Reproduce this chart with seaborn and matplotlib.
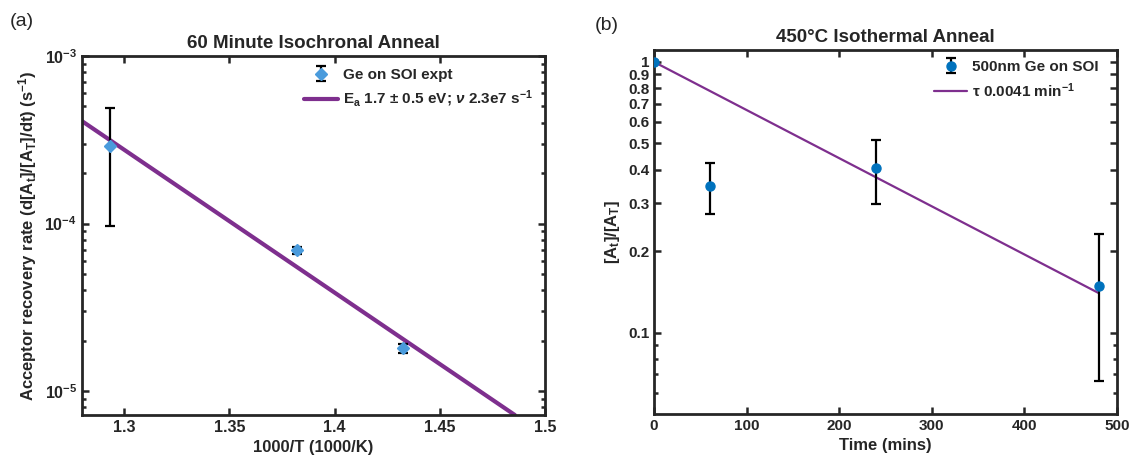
import numpy as np
import pandas as pd
import matplotlib
matplotlib.use("Agg")
import matplotlib.pyplot as plt
import matplotlib.ticker as mticker
import seaborn as sns

# Panel (a): 60 minute isochronal anneal
inv_T = [1.2933, 1.3820, 1.4325]
rate = [2.92e-4, 6.92e-5, 1.80e-5]
rate_err = [1.95e-4, 0.30e-5, 0.12e-5]
fit_a_x = [1.28, 1.4857]
fit_a_y = [4.09e-4, 7.2e-6]

# Panel (b): 450C isothermal anneal
time_min = [0, 60, 240, 480]
frac = [1.0, 0.349, 0.406, 0.149]
frac_err = [0.01, 0.075, 0.108, 0.083]
fit_b_x = [0, 480]
fit_b_y = [1.0, 0.14]

sns.set_style("ticks")
plt.rcParams['font.family'] = ['Liberation Sans', 'DejaVu Sans']
plt.rcParams['font.weight'] = 'bold'
plt.rcParams['axes.labelweight'] = 'bold'
plt.rcParams['axes.titleweight'] = 'bold'
plt.rcParams['mathtext.fontset'] = 'custom'
plt.rcParams['mathtext.rm'] = 'Liberation Sans:bold'
plt.rcParams['mathtext.bf'] = 'Liberation Sans:bold'
plt.rcParams['mathtext.it'] = 'Liberation Sans:italic:bold'
plt.rcParams['mathtext.default'] = 'rm'

purple = '#7E2F8E'
ink = '#262626'

fig = plt.figure(figsize=(11.29, 4.67), dpi=100)
ax1 = fig.add_axes([0.0726, 0.1113, 0.4101, 0.7687])
ax2 = fig.add_axes([0.5793, 0.1135, 0.4101, 0.7795])


def style_axes(ax, size):
    for s in ax.spines.values():
        s.set_linewidth(2.0)
        s.set_color(ink)
    ax.tick_params(which='both', direction='in', top=True, right=True,
                   width=1.8, color=ink, labelsize=size, labelcolor=ink)
    ax.tick_params(which='major', length=5)
    ax.tick_params(which='minor', length=3)
    for lab in ax.get_xticklabels() + ax.get_yticklabels():
        lab.set_fontweight('bold')


def data_first_legend(ax, anchor):
    h, l = ax.get_legend_handles_labels()
    ax.legend(h[::-1], l[::-1], loc='upper right', frameon=False, fontsize=11,
              bbox_to_anchor=anchor, handlelength=2.2, handletextpad=0.3,
              labelspacing=0.45, labelcolor=ink)


# ---- (a)
df_a = pd.DataFrame({'x': fit_a_x, 'y': fit_a_y})
sns.lineplot(data=df_a, x='x', y='y', ax=ax1, color=purple, linewidth=3,
             label=r'E$_\mathregular{a}$ 1.7 ± 0.5 eV; $\mathit{\nu}$ 2.3e7 s$^{-1}$', zorder=2)
ax1.errorbar(inv_T, rate, yerr=rate_err, fmt='D', color='#4A9BDC',
             markersize=6, ecolor='black', elinewidth=1.6, capsize=3.5,
             capthick=1.6, label='Ge on SOI expt', zorder=3)
ax1.set_yscale('log')
ax1.set_xlim(1.28, 1.5)
ax1.set_ylim(7.2e-6, 1e-3)
ax1.set_xticks([1.3, 1.35, 1.4, 1.45, 1.5])
ax1.xaxis.set_major_formatter(mticker.FuncFormatter(lambda v, p: f'{v:g}'))
ax1.yaxis.set_major_locator(mticker.LogLocator(base=10, numticks=10))
ax1.yaxis.set_minor_locator(mticker.LogLocator(base=10, subs=np.arange(2, 10), numticks=20))
ax1.yaxis.set_minor_formatter(mticker.NullFormatter())
ax1.set_xlabel('1000/T (1000/K)', fontsize=12, fontweight='bold', color=ink)
ax1.set_ylabel(r'Acceptor recovery rate (d[A$_t$]/[A$_T$]/dt) (s$^{-1}$)',
               fontsize=12, fontweight='bold', color=ink)
ax1.set_title('60 Minute Isochronal Anneal', fontsize=13.5, fontweight='bold',
              pad=6, color=ink)
data_first_legend(ax1, (1.003, 1.005))
style_axes(ax1, 11.5)

# ---- (b)
df_b = pd.DataFrame({'x': fit_b_x, 'y': fit_b_y})
sns.lineplot(data=df_b, x='x', y='y', ax=ax2, color=purple, linewidth=1.6,
             label=r'τ 0.0041 min$^{-1}$', zorder=2)
ax2.errorbar(time_min, frac, yerr=frac_err, fmt='o', color='#0072BD',
             markersize=6.5, ecolor='black', elinewidth=1.6, capsize=3.5,
             capthick=1.6, label='500nm Ge on SOI', zorder=3)
ax2.set_yscale('log')
ax2.set_xlim(0, 500)
ax2.set_ylim(0.05, 1.107)
ax2.set_xticks([0, 100, 200, 300, 400, 500])
ax2.yaxis.set_major_locator(mticker.FixedLocator([0.1, 0.2, 0.3, 0.4, 0.5, 0.6, 0.7, 0.8, 0.9, 1.0]))
ax2.yaxis.set_major_formatter(mticker.FuncFormatter(lambda v, p: f'{v:g}'))
ax2.yaxis.set_minor_locator(mticker.FixedLocator([0.06, 0.07, 0.08, 0.09]))
ax2.yaxis.set_minor_formatter(mticker.NullFormatter())
ax2.set_xlabel('Time (mins)', fontsize=12, fontweight='bold', color=ink)
ax2.set_ylabel(r'[A$_t$]/[A$_T$]', fontsize=12, fontweight='bold', color=ink)
ax2.set_title('450°C Isothermal Anneal', fontsize=13.5, fontweight='bold',
              pad=6, color=ink)
data_first_legend(ax2, (0.99, 1.01))
style_axes(ax2, 11)

fig.text(0.009, 0.945, '(a)', fontsize=14, fontweight='normal', color=ink)
fig.text(0.527, 0.935, '(b)', fontsize=14, fontweight='normal', color=ink)

fig.savefig('out.png', dpi=100)
